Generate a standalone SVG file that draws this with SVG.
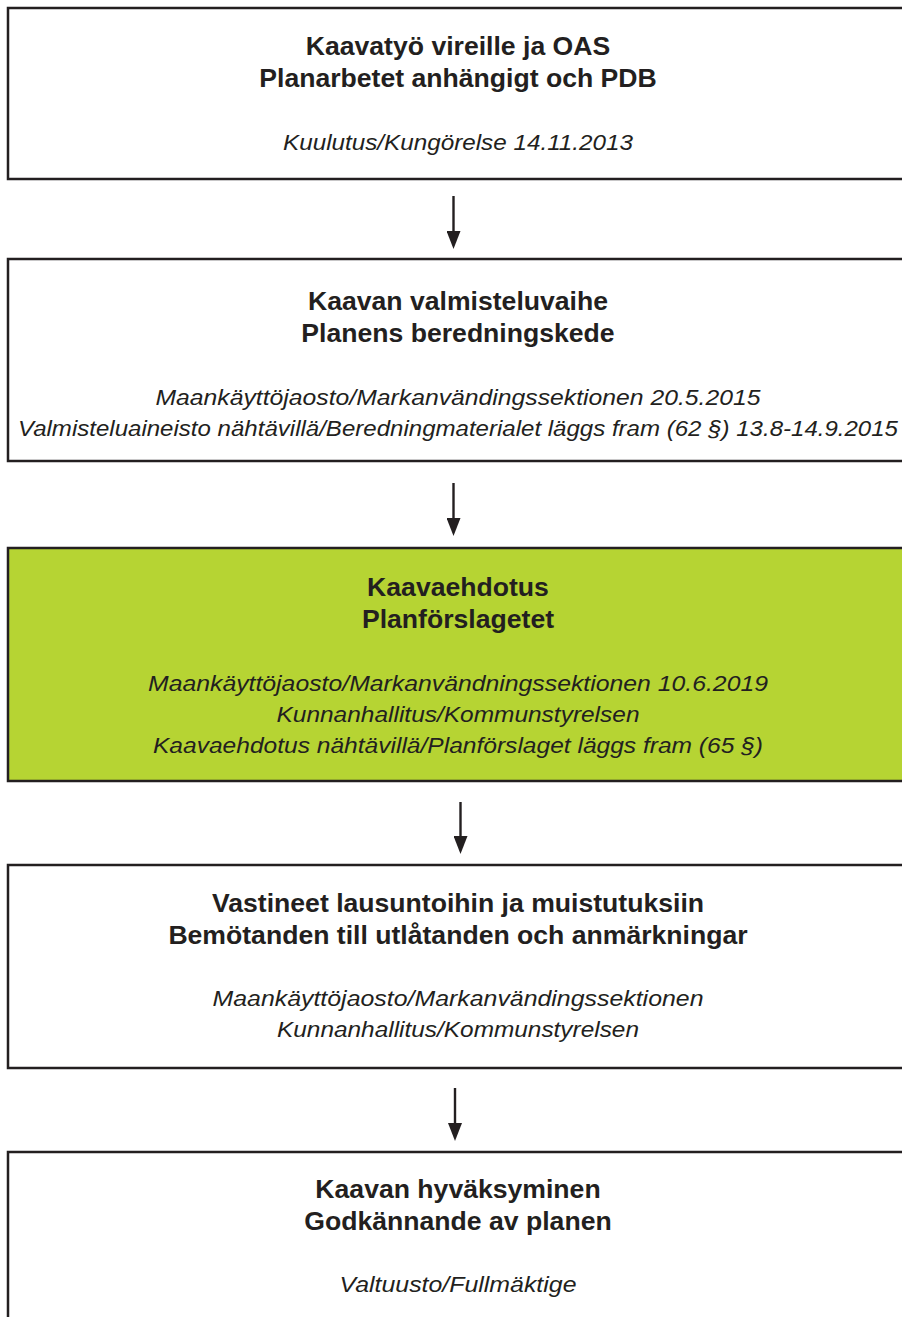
<svg xmlns="http://www.w3.org/2000/svg" width="902" height="1317" viewBox="0 0 902 1317">
<style>
.box{fill:#ffffff;stroke:#231f20;stroke-width:2.5}
.green{fill:#b6d433}
.t{font-family:"Liberation Sans",Arial,sans-serif;font-weight:bold;font-size:26.6px;fill:#231f20;text-anchor:middle}
.i{font-family:"Liberation Sans",Arial,sans-serif;font-style:italic;font-size:22px;fill:#231f20;text-anchor:middle}
.c{stroke:#231f20;stroke-width:2.4;fill:none}
</style>
<defs>
<marker id="ah" markerUnits="userSpaceOnUse" markerWidth="18" markerHeight="14" refX="8" refY="7" orient="auto" viewBox="0 0 18 14">
<path d="M0,0 L18,7 L0,14 Z" fill="#231f20"/>
</marker>
</defs>
<rect width="902" height="1317" fill="#ffffff"/>
<g id="node1">
<rect class="box" x="8" y="8" width="910" height="171"/>
<text class="t" x="458" y="55">Kaavatyö vireille ja OAS</text>
<text class="t" x="458" y="87">Planarbetet anhängigt och PDB</text>
<text class="i" x="458" y="150" textLength="350" lengthAdjust="spacingAndGlyphs">Kuulutus/Kungörelse 14.11.2013</text>
</g>
<g id="node2">
<rect class="box" x="8" y="259" width="910" height="202"/>
<text class="t" x="458" y="310">Kaavan valmisteluvaihe</text>
<text class="t" x="458" y="342">Planens beredningskede</text>
<text class="i" x="458" y="405" textLength="605" lengthAdjust="spacingAndGlyphs">Maankäyttöjaosto/Markanvändingssektionen 20.5.2015</text>
<text class="i" x="458" y="436" textLength="880" lengthAdjust="spacingAndGlyphs">Valmisteluaineisto nähtävillä/Beredningmaterialet läggs fram (62 §) 13.8-14.9.2015</text>
</g>
<g id="node3">
<rect class="box green" x="8" y="548" width="910" height="233"/>
<text class="t" x="458" y="596">Kaavaehdotus</text>
<text class="t" x="458" y="628">Planförslagetet</text>
<text class="i" x="458" y="691" textLength="620" lengthAdjust="spacingAndGlyphs">Maankäyttöjaosto/Markanvändningssektionen 10.6.2019</text>
<text class="i" x="458" y="722" textLength="363" lengthAdjust="spacingAndGlyphs">Kunnanhallitus/Kommunstyrelsen</text>
<text class="i" x="458" y="753" textLength="610" lengthAdjust="spacingAndGlyphs">Kaavaehdotus nähtävillä/Planförslaget läggs fram (65 §)</text>
</g>
<g id="node4">
<rect class="box" x="8" y="865" width="910" height="203"/>
<text class="t" x="458" y="912">Vastineet lausuntoihin ja muistutuksiin</text>
<text class="t" x="458" y="944">Bemötanden till utlåtanden och anmärkningar</text>
<text class="i" x="458" y="1006" textLength="491" lengthAdjust="spacingAndGlyphs">Maankäyttöjaosto/Markanvändingssektionen</text>
<text class="i" x="458" y="1037" textLength="362" lengthAdjust="spacingAndGlyphs">Kunnanhallitus/Kommunstyrelsen</text>
</g>
<g id="node5">
<rect class="box" x="8" y="1152" width="910" height="200"/>
<text class="t" x="458" y="1198">Kaavan hyväksyminen</text>
<text class="t" x="458" y="1230">Godkännande av planen</text>
<text class="i" x="458" y="1292" textLength="237" lengthAdjust="spacingAndGlyphs">Valtuusto/Fullmäktige</text>
</g>
<g id="connectors">
<line class="c" x1="453.5" y1="196" x2="453.5" y2="239" marker-end="url(#ah)"/>
<line class="c" x1="453.5" y1="483" x2="453.5" y2="526" marker-end="url(#ah)"/>
<line class="c" x1="460.5" y1="802" x2="460.5" y2="844" marker-end="url(#ah)"/>
<line class="c" x1="455" y1="1088" x2="455" y2="1131" marker-end="url(#ah)"/>
</g>
</svg>
